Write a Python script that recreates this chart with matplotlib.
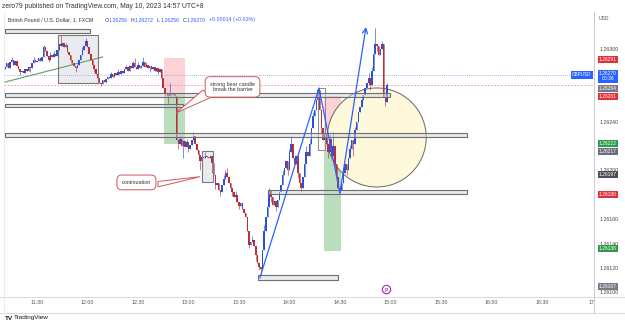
import numpy as np
import matplotlib
matplotlib.use("Agg")
import matplotlib.pyplot as plt
from matplotlib.patches import Rectangle, Ellipse, Polygon
from matplotlib.lines import Line2D
from matplotlib.transforms import blended_transform_factory

plt.rcParams['font.family'] = ['Liberation Sans', 'DejaVu Sans']

W, H = 625, 326

# GBPUSD 1-minute candles starting 11:11, prices in points above 1.26000 (1 pt = 0.00001)
bar_start = "11:11"
first_open = 283
closes = [
    285, 288, 284, 289, 291, 287, 290,
    286, 283, 281, 282, 280, 283, 282,
    285, 284, 288, 291, 289,
    290, 292, 290, 293, 301, 298,
    294, 291, 295, 293, 296, 294,
    299, 304, 302, 305,
    301, 303, 297, 295, 291, 288,
    286, 284, 287,
    291, 295, 299, 302, 306, 301,
    296, 291, 287, 283,
    279, 276, 272, 271, 274, 273,
    275, 277, 276, 279, 277, 280, 278, 281, 279, 282, 280, 283, 285, 282, 286,
    284, 288, 285, 283, 287, 284, 286, 289, 285, 287, 284, 286, 283, 285, 282,
    284, 281, 283,
    276, 268, 264,
    263, 261, 264, 262,
    263, 261,
    225,
    222, 226, 220, 224, 219, 223, 218, 221,
    225, 228, 222,
    217, 213, 208, 211, 210, 212, 211, 210, 212, 206,
    196, 188, 190, 184, 182,
    188, 193, 198, 195, 190,
    186, 182, 178, 180, 174, 171, 173,
    168, 165, 162,
    150, 139, 141,
    143, 138, 131,
    124, 121, 119,
    135, 150, 162, 170,
    183, 178, 172, 175, 170, 176,
    182, 188, 196, 202,
    208, 200, 215, 222, 210, 205, 212, 198, 190, 186, 195, 205, 215, 212, 222,
    235, 245, 250, 258,
    266,
    250, 235, 225, 230,
    222, 215, 226, 212, 220, 205,
    195, 186, 184,
    190, 198, 205, 200, 210, 218,
    225, 222, 233,
    240, 248, 252, 258, 262, 268,
    272, 276, 270, 282,
    296, 304, 302, 295,
    300, 304,
    260, 256, 270,
]
wick_high = {4: 293, 17: 293, 23: 303, 27: 297, 29: 298, 33: 311, 36: 305,
             46: 301, 48: 309, 63: 281, 67: 283, 72: 287, 76: 290, 77: 292,
             79: 289, 82: 293, 84: 289, 98: 272, 104: 229, 108: 226, 112: 232,
             119: 215, 130: 196, 131: 200, 132: 202, 137: 183, 147: 146,
             154: 155, 157: 186, 165: 200, 169: 218, 170: 228, 179: 220,
             181: 226, 183: 248, 186: 268, 193: 230, 195: 232, 201: 202,
             205: 221, 208: 236, 212: 262, 216: 280, 218: 285, 220: 317,
             222: 300, 224: 306, 227: 272}
wick_low = {9: 278, 15: 281, 26: 289, 39: 288, 42: 281, 53: 281, 57: 269,
            60: 272, 86: 281, 91: 279, 95: 261, 97: 255, 103: 218, 106: 210,
            109: 215, 115: 210, 116: 200, 123: 198, 125: 185, 128: 179,
            135: 179, 139: 168, 145: 136, 149: 126, 151: 118, 152: 114,
            158: 174, 161: 167, 168: 196, 174: 194, 176: 182, 188: 230,
            192: 210, 196: 200, 199: 181, 203: 196, 207: 212, 209: 236,
            217: 266, 221: 298, 226: 253}

# drawings: (from, to, low, high) in time / points
grey_bars = [("11:11", "12:01.5", 313, 316),
             ("11:11", "14:59.7", 260.6, 264),
             ("11:11", "12:56.7", 252, 254.6),
             ("11:11", "15:45.5", 227.3, 231),
             ("13:47.3", "15:45.5", 180.7, 184),
             ("13:41.3", "14:28.8", 110, 114)]
grey_boxes = [("11:42.5", "12:06", 272, 311),
              ("13:08", "13:14.6", 190.6, 216.3)]
outline_boxes = [("14:16.8", "14:21.1", 217, 267.7)]
red_zones = [("12:45.5", "12:58", 263.4, 292.6),
             ("14:20.5", "14:30.6", 217, 261)]
green_zones = [("12:45.5", "12:58", 221.8, 263.4),
               ("14:20.5", "14:30.6", 134, 217)]
trend_line = [("11:11", 272.6), ("12:09", 293.2)]
zigzag = [("13:42.5", 112), ("14:17.6", 267.7), ("14:30", 181.5), ("14:45.5", 317.8)]
circle = ("14:51.9", 227.1, 58.8, 81.3)
blue_level = 278.4
pink_level = 270.2

callouts = [
    ("strong bear candle\nbreak the barrier", ("13:26.2", 268.6),
     [("13:08.6", 266), ("13:14", 260.4), ("12:52.6", 247.2)]),
    ("continuation", ("12:29.1", 190.2),
     [("12:41.9", 191), ("12:41.9", 186.5), ("13:06.9", 194.9)]),
]

time_ticks = ["11:30", "12:00", "12:30", "13:00", "13:30", "14:00", "14:30",
              "15:00", "15:30", "16:00", "16:30"]
# scale labels left visible next to the coloured tags
price_ticks = [100, 120, 140, 160, 200, 240, 300]
price_tags = [(291, '#e0303a'), (264, '#787b86'), (261, '#e0303a'),
              (222, '#2e9a4a'), (217, '#6a6d78'), (197, '#4a4d57'),
              (180, '#e0303a'), (136, '#2e9a4a'), (107, '#787b86')]
last_close = 270


def tmin(s):
    h, m = s.split(":")
    return int(h) * 60 + float(m)


def px(p):
    return 1.26 + np.asarray(p) / 1e5


fig = plt.figure(figsize=(W / 100, H / 100), dpi=100)
L, R, T, B = 4, 594, 12, 296.5
ax = fig.add_axes([L / W, 1 - B / H, (R - L) / W, (B - T) / H])
ax.set_xlim(670.4, 1021.0)
ax.set_ylim(px(96.55), px(330.1))
for s in ax.spines.values():
    s.set_visible(False)
ax.set_axisbelow(True)

# zones
for a, b, lo, hi in red_zones:
    ax.add_patch(Rectangle((tmin(a), px(lo)), tmin(b) - tmin(a), px(hi) - px(lo),
                           fc='#f23645', alpha=0.22, lw=0, zorder=1))
for a, b, lo, hi in green_zones:
    ax.add_patch(Rectangle((tmin(a), px(lo)), tmin(b) - tmin(a), px(hi) - px(lo),
                           fc='#2e9a3a', alpha=0.33, lw=0, zorder=1))
for a, b, lo, hi in grey_boxes:
    ax.add_patch(Rectangle((tmin(a), px(lo)), tmin(b) - tmin(a), px(hi) - px(lo),
                           fc='#d1d4dc', alpha=0.45, ec='none', zorder=1))
    ax.add_patch(Rectangle((tmin(a), px(lo)), tmin(b) - tmin(a), px(hi) - px(lo),
                           fc='none', ec='#7a7a7a', lw=0.8, zorder=4))
for a, b, lo, hi in outline_boxes:
    ax.add_patch(Rectangle((tmin(a), px(lo)), tmin(b) - tmin(a), px(hi) - px(lo),
                           fc='none', ec='#8a8a8a', lw=0.7, zorder=4))

ct, cp, cw, ch = circle
ax.add_patch(Ellipse((tmin(ct), px(cp)), cw, ch / 1e5, fc='#fff9dc', ec='#666666',
                     lw=0.7, zorder=1.5))

ax.axhline(px(blue_level), color='#7fa2f2', ls=(0, (1, 1.5)), lw=0.6, zorder=1.2)
ax.axhline(px(pink_level), color='#f09090', ls=(0, (2, 2)), lw=0.6, zorder=1.2)

ax.plot([tmin(t) for t, _ in trend_line], px([p for _, p in trend_line]),
        color='#5e9e6e', lw=0.8, zorder=2)

# candles
opens = [first_open] + closes[:-1]
tt = tmin(bar_start) + np.arange(len(closes))
for i, (o, c) in enumerate(zip(opens, closes)):
    col = '#2a52d6' if c >= o else '#b8303b'
    hi = max(o, c, wick_high.get(i, 0))
    lo = min(o, c, wick_low.get(i, 999))
    ax.vlines(tt[i], px(lo), px(hi), color=col, lw=0.6, alpha=0.75, zorder=3)
    ax.bar(tt[i], max(abs(c - o), 0.6) / 1e5, bottom=px(min(o, c)), width=0.9,
           color=col, lw=0, zorder=3)

for a, b, lo, hi in grey_bars:
    ax.add_patch(Rectangle((tmin(a), px(lo)), tmin(b) - tmin(a), px(hi) - px(lo),
                           fc='#d1d4dc', alpha=0.5, ec='none', zorder=4))
    ax.add_patch(Rectangle((tmin(a), px(lo)), tmin(b) - tmin(a), px(hi) - px(lo),
                           fc='none', ec='#6e6e6e', lw=0.8, zorder=4))

zx = [tmin(t) for t, _ in zigzag]
zy = px([p for _, p in zigzag])
ax.plot(zx[:-1], zy[:-1], color='#2962ff', lw=0.9, zorder=5)
ax.annotate('', xy=(zx[-1], zy[-1]), xytext=(zx[-2], zy[-2]),
            arrowprops=dict(arrowstyle='->', color='#2962ff', lw=0.9,
                            mutation_scale=9, shrinkA=0, shrinkB=0), zorder=5)

for txt, (t0, p0), wedge in callouts:
    ax.add_patch(Polygon([(tmin(t), px(p)) for t, p in wedge], closed=True,
                         fc='white', ec='#d0575c', lw=0.7, zorder=6))
    ax.text(tmin(t0), px(p0), txt, ha='center', va='center', fontsize=3.9,
            color='#333333', linespacing=1.15, zorder=7,
            bbox=dict(boxstyle='round,pad=0.9,rounding_size=0.9', fc='white',
                      ec='#d0575c', lw=0.7))

ax.plot(tmin("14:57.4"), px(102.6), 'o', ms=6, mfc='white', mec='#9c27b0',
        mew=0.8, zorder=6, clip_on=False)
ax.text(tmin("14:57.4"), px(102.6), 'p', ha='center', va='center', fontsize=3.5,
        color='#9c27b0', zorder=7, fontweight='bold')

# axes ticks
ax.set_xticks([tmin(s) for s in time_ticks])
ax.set_xticklabels(time_ticks)
ax.yaxis.tick_right()
ax.set_yticks(px(price_ticks))
ax.set_yticklabels([f"{1.26 + v / 1e5:.5f}" for v in price_ticks])
ax.tick_params(axis='x', length=0, pad=2.6, labelsize=3.8, labelcolor='#555555')
ax.tick_params(axis='y', length=0, pad=3.8, labelsize=3.8, labelcolor='#444444')

# price tags on the scale
tr = blended_transform_factory(fig.transFigure, ax.transData)
tag_shift = {264: 3.0, 217: -1.5, 107: -2.5}
for v, col in price_tags:
    ax.text(608 / W, px(v + tag_shift.get(v, 0)), f"{1.26 + v / 1e5:.5f}",
            transform=tr, ha='center', va='center', fontsize=3.6, color='white',
            zorder=20, clip_on=False,
            bbox=dict(boxstyle='square,pad=0.22', fc=col, ec='none'))
ax.text(608 / W, px(last_close + 7.3), f"{1.26 + last_close / 1e5:.5f}\n00:36",
        transform=tr, ha='center', va='center', fontsize=3.6, color='white',
        linespacing=1.05, zorder=21, clip_on=False,
        bbox=dict(boxstyle='square,pad=0.22', fc='#2962ff', ec='none'))
ax.text(582 / W, px(blue_level), "GBPUSD", transform=tr, ha='center', va='center',
        fontsize=3.3, color='white', zorder=21, clip_on=False,
        bbox=dict(boxstyle='square,pad=0.3', fc='#2962ff', ec='none'))

# frame lines
for y in (296.5, 313):
    fig.add_artist(Line2D([0, 1], [1 - y / H] * 2, color='#d6d8de', lw=0.7))
fig.add_artist(Line2D([594 / W] * 2, [1 - 12 / H, 1 - 313 / H], color='#c8cad0', lw=0.7))
fig.add_artist(Line2D([4 / W] * 2, [1 - 12 / H, 1 - 313 / H], color='#e6e8ee', lw=0.6))

# header and footer text
fig.text(2 / W, 1 - 6 / H, "zero79 published on TradingView.com, May 10, 2023 14:57 UTC+8",
         fontsize=4.9, color='#333333', va='center')
fig.text(8 / W, 1 - 20 / H, "British Pound / U.S. Dollar, 1, FXCM", fontsize=3.8,
         color='#333333', va='center')
for x0, lab, val in [(105, "O", "1.26256"), (131, "H", "1.26272"),
                     (157, "L", "1.26256"), (183, "C", "1.26270")]:
    fig.text(x0 / W, 1 - 20 / H, lab, fontsize=3.8, color='#333333', va='center')
    fig.text((x0 + 3.5) / W, 1 - 20 / H, val, fontsize=3.8, color='#2962ff', va='center')
fig.text(209 / W, 1 - 20 / H, "+0.00014 (+0.01%)", fontsize=3.8, color='#2962ff',
         va='center')
fig.text(599 / W, 1 - 18 / H, "USD", fontsize=3.6, color='#555555', va='center')
fig.text(594 / W, 1 - 302 / H, "17", fontsize=3.8, color='#555555', va='center',
         ha='right')
fig.text(5 / W, 1 - 318 / H, "TV", fontsize=4.6, color='#131722', va='center',
         fontweight='bold')
fig.text(14 / W, 1 - 318 / H, "TradingView", fontsize=4.6, color='#131722', va='center')

fig.savefig("out.png", dpi=100)
